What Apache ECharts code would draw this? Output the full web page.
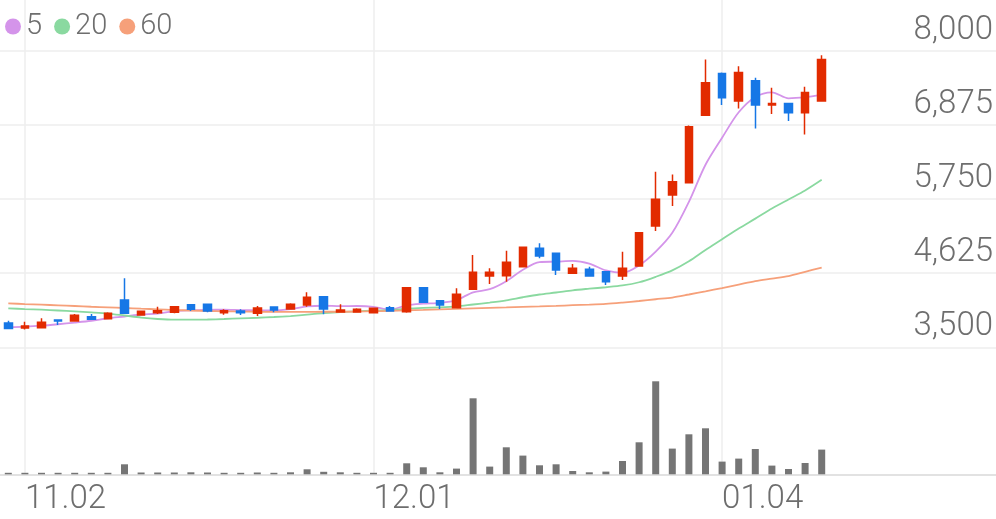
<!DOCTYPE html>
<html><head><meta charset="utf-8">
<script src="https://cdn.jsdelivr.net/npm/echarts@6/dist/echarts.min.js"></script>
<style>html,body{margin:0;padding:0;background:#fff}#c{width:996px;height:519px}</style>
</head><body><div id="c"></div>
<script>
const dates = ['10.30','11.02','11.03','11.04','11.05','11.06','11.09','11.10','11.11','11.12','11.13','11.16','11.17','11.18','11.19','11.20','11.23','11.24','11.25','11.26','11.27','11.30','12.01','12.02','12.03','12.04','12.07','12.08','12.09','12.10','12.11','12.14','12.15','12.16','12.17','12.18','12.21','12.22','12.23','12.24','12.28','12.29','12.30','01.04','01.05','01.06','01.07','01.08','01.11','01.12'];
const opens  = [3869,3793,3798,3914,3899,3965,3934,4218,3990,4025,4031,4147,4153,4025,4051,4016,4112,4081,4142,4268,4036,4036,4025,4101,4040,4405,4207,4101,4380,4582,4587,4724,5003,4927,4623,4684,4648,4582,4734,5341,5812,5999,7026,7659,7239,7547,7178,7204,7061,7239];
const closes = [3785,3823,3880,3899,3986,3925,4016,4016,4046,4056,4116,4077,4051,4056,4025,4097,4066,4153,4259,4081,4066,4077,4092,4051,4405,4183,4142,4305,4639,4639,4790,5018,4886,4673,4699,4582,4496,4699,5240,5747,6014,6849,7517,7289,7675,7178,7204,7061,7371,7872];
const lows   = [3777,3770,3798,3839,3899,3925,3934,4005,3990,4005,4016,4051,4031,3995,3990,3975,4031,4081,4116,4001,4036,4025,4025,4051,4025,4183,4081,4101,4370,4461,4496,4724,4851,4598,4623,4582,4446,4522,4734,5265,5645,5999,7026,7178,7128,6824,7042,6935,6733,7239];
const highs  = [3904,3889,3940,3914,4005,4005,4031,4547,4046,4116,4116,4147,4153,4077,4077,4127,4112,4168,4335,4268,4153,4092,4092,4127,4405,4405,4207,4396,4901,4699,4966,5018,5079,4927,4765,4724,4648,4951,5240,6166,6126,6870,7872,7675,7770,7593,7441,7204,7456,7937];
const volumes = [15,15,15,15,15,15,15,100,18,18,18,20,18,15,15,18,15,20,50,25,20,15,15,15,110,70,20,57,760,77,270,187,90,100,33,20,27,133,320,930,257,400,460,127,157,253,87,53,113,247];
const ma5  = [3804,3813,3828,3850,3875,3903,3941,3968,3998,4012,4050,4062,4069,4071,4065,4061,4059,4079,4120,4131,4125,4127,4115,4073,4138,4162,4175,4217,4335,4382,4503,4678,4794,4801,4813,4772,4667,4630,4743,4953,5239,5710,6273,6683,7069,7302,7373,7281,7298,7337];
const ma20 = [4092,4081,4071,4059,4046,4031,4013,3983,3952,3930,3919,3919,3922,3930,3940,3949,3960,3975,3995,4021,4035,4047,4058,4066,4087,4099,4106,4120,4150,4179,4213,4260,4302,4332,4366,4390,4412,4439,4488,4571,4669,4807,4979,5141,5304,5454,5607,5745,5881,6043];
const ma60 = [4168,4157,4147,4138,4127,4116,4107,4097,4086,4077,4066,4059,4051,4046,4043,4040,4039,4039,4039,4040,4040,4043,4048,4054,4062,4069,4077,4084,4092,4100,4107,4115,4122,4130,4139,4148,4160,4180,4203,4230,4256,4302,4350,4400,4453,4506,4544,4582,4646,4711];
const priceTicks = [3500,4625,5750,6875,8000];
const dateTicks = ['11.02','12.01','01.04'];
const maNames = ['5','20','60'];
const slots = 60;

const RED = '#e22b00', BLUE = '#1677e6';
const TXT = '#6e6e6e';
const FONT = 'Roboto, "Noto Sans", sans-serif';
const GRIDC = '#eeeeee';
const isTick = (i, v) => dateTicks.indexOf(v) >= 0;

const chart = echarts.init(document.getElementById('c'));
chart.setOption({
  animation: false,
  legend: {
    data: maNames, left: 0, top: 7, icon: 'circle', itemWidth: 16, itemHeight: 16, itemGap: 12,
    textStyle: { fontSize: 29, color: TXT, fontFamily: FONT, fontWeight: 300 }
  },
  grid: [
    { left: 8.3, right: 8.3, top: 0, height: 474.3 },
    { left: 0, right: 0, top: 51, height: 296.3 },
    { left: 0, right: 0, top: 347.3, height: 127 }
  ],
  xAxis: [
    { gridIndex: 0, type: 'category', data: dates, max: slots - 1, boundaryGap: false,
      axisLine: { show: false }, axisTick: { show: false },
      axisLabel: { interval: isTick, align: 'left', fontSize: 33, color: TXT, fontFamily: FONT, fontWeight: 300, margin: 9 },
      splitLine: { show: true, interval: isTick, lineStyle: { color: GRIDC, width: 1.5 } } },
    { gridIndex: 1, type: 'category', data: dates, max: slots - 1, boundaryGap: true, show: false },
    { gridIndex: 2, type: 'category', data: dates, max: slots - 1, boundaryGap: true,
      axisLine: { show: true, lineStyle: { color: '#e2e2e2', width: 2 } }, axisTick: { show: false },
      axisLabel: { show: false }, splitLine: { show: false } }
  ],
  yAxis: [
    { gridIndex: 0, type: 'value', show: false, splitLine: { show: false } },
    { gridIndex: 1, type: 'value', position: 'right', min: priceTicks[0], max: priceTicks[priceTicks.length - 1],
      interval: priceTicks[1] - priceTicks[0],
      axisLine: { show: false }, axisTick: { show: false },
      axisLabel: { inside: true, margin: 3, fontSize: 33, color: TXT, fontFamily: FONT, fontWeight: 300,
        verticalAlign: 'bottom', lineHeight: 33, padding: [0, 0, 4, 0], showMinLabel: true, showMaxLabel: true,
        formatter: v => v.toLocaleString('en-US') },
      splitLine: { show: true, lineStyle: { color: GRIDC, width: 1.5 } } },
    { gridIndex: 2, type: 'value', min: 0, max: 1270, show: false }
  ],
  series: [
    { type: 'candlestick', name: 'price', xAxisIndex: 1, yAxisIndex: 1, z: 5, barWidth: 8,
      data: opens.map((o, i) => [o, closes[i], lows[i], highs[i]]),
      itemStyle: { color: RED, color0: BLUE, borderColor: RED, borderColor0: BLUE, borderWidth: 1.5 } },
    { type: 'line', name: maNames[0], xAxisIndex: 1, yAxisIndex: 1, z: 3, data: ma5, symbol: 'none', smooth: 0.3,
      itemStyle: { color: '#d494ea' }, lineStyle: { color: '#d494ea', width: 1.8 } },
    { type: 'line', name: maNames[1], xAxisIndex: 1, yAxisIndex: 1, z: 3, data: ma20, symbol: 'none', smooth: 0.3,
      itemStyle: { color: '#8ad9a0' }, lineStyle: { color: '#8ad9a0', width: 1.8 } },
    { type: 'line', name: maNames[2], xAxisIndex: 1, yAxisIndex: 1, z: 3, data: ma60, symbol: 'none', smooth: 0.3,
      itemStyle: { color: '#f6a07a' }, lineStyle: { color: '#f6a07a', width: 1.8 } },
    { type: 'bar', name: 'volume', xAxisIndex: 2, yAxisIndex: 2, data: volumes, barWidth: 7,
      itemStyle: { color: '#757575' } }
  ]
});
</script></body></html>
